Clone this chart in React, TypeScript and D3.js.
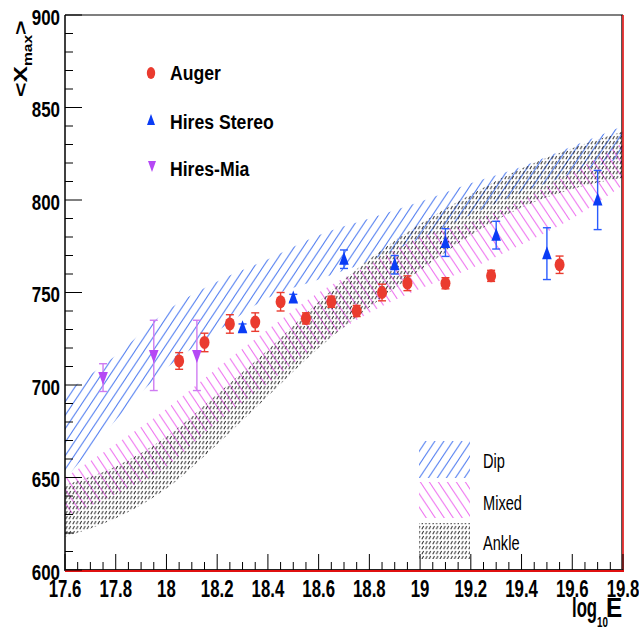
import React from 'react';
import * as d3 from 'd3';

// Model bands on a log10(E) grid, lower/upper <Xmax> bounds
const bandE = [17.6, 17.8, 18.0, 18.2, 18.4, 18.6, 18.8, 19.0, 19.2, 19.4, 19.6, 19.8];
const dipHigh = [696, 716, 740, 756, 768, 781, 790, 799, 809, 818, 829, 840];
const dipLow = [649, 681, 709, 729, 747, 757, 767, 779, 792, 804, 814, 823];
const mixedHigh = [650, 668, 687, 709, 730, 750, 765, 780, 788, 800, 815, 831];
const mixedLow = [629, 641, 656, 680, 701, 722, 739, 752, 763, 776, 790, 808];
const ankleHigh = [646, 656, 672, 695, 719, 745, 768, 787, 803, 817, 828, 837];
const ankleLow = [618, 628, 644, 668, 694, 720, 742, 762, 781, 796, 806, 812];

// Measurements
const augerE = [18.05, 18.15, 18.25, 18.35, 18.45, 18.55, 18.65, 18.75, 18.85, 18.95, 19.1, 19.28, 19.55];
const augerX = [713, 723, 733, 734, 745, 736, 745, 740, 750, 755, 755, 759, 765];
const augerErr = [4.5, 5, 5, 5, 5, 3, 3, 3, 4.5, 4, 3, 3, 4.7];

const stereoE = [18.3, 18.5, 18.7, 18.9, 19.1, 19.3, 19.5, 19.7];
const stereoX = [731, 747, 768, 765, 777, 781, 771, 800];
const stereoErr = [2, 2, 5, 5, 7.5, 7.5, 14, 16];

const miaE = [17.75, 17.95, 18.12];
const miaX = [704, 716, 716];
const miaErr = [7.5, 19, 19];

// Axis ticks
const xTickLabels = ['17.6', '17.8', '18', '18.2', '18.4', '18.6', '18.8', '19', '19.2', '19.4', '19.6', '19.8'];
const yTickLabels = ['600', '650', '700', '750', '800', '850', '900'];

const legendSeries = ['Auger', 'Hires Stereo', 'Hires-Mia'];
const legendBands = ['Dip', 'Mixed', 'Ankle'];

const FONT = "'Liberation Sans', Arial, Helvetica, sans-serif";
const RED = '#ea3b2f';
const BLUE = '#0a3cf5';
const BLUE_ERR = '#2a5cff';
const PURPLE = '#b548f5';
const PURPLE_ERR = '#cf7cf2';
const DIP_C = '#4f7cf0';
const MIX_C = '#ee70f0';
const ANK_C = '#2a2a2a';

const x = d3.scaleLinear().domain([17.6, 19.8]).range([65, 623]);
const y = d3.scaleLinear().domain([600, 900]).range([570, 15]);

function bandPath(lo: number[], hi: number[]) {
  const a = d3
    .area<number>()
    .x((e) => x(e))
    .y0((_, i) => y(lo[i]))
    .y1((_, i) => y(hi[i]))
    .curve(d3.curveMonotoneX);
  return a(bandE) || '';
}

function CText(props: {
  x: number;
  y: number;
  sx: number;
  size: number;
  anchor?: string;
  weight?: string | number;
  fill?: string;
  children: React.ReactNode;
}) {
  const { x: tx, y: ty, sx, size, anchor = 'start', weight = 'bold', fill = '#000', children } = props;
  return (
    <text
      transform={`translate(${tx},${ty}) scale(${sx},1)`}
      textAnchor={anchor}
      fontFamily={FONT}
      fontSize={size}
      fontWeight={weight}
      fill={fill}
    >
      {children}
    </text>
  );
}

const upTri = 'M0,-7.5 L4.8,5.5 L-4.8,5.5 Z';
const downTri = 'M0,7.5 L4.8,-5.5 L-4.8,-5.5 Z';

function ErrBar({ cx, v, e, color }: { cx: number; v: number; e: number; color: string }) {
  const y1 = y(v - e);
  const y2 = y(v + e);
  return (
    <g stroke={color} strokeWidth={1.4}>
      <line x1={cx} x2={cx} y1={y1} y2={y2} />
      <line x1={cx - 4} x2={cx + 4} y1={y1} y2={y1} />
      <line x1={cx - 4} x2={cx + 4} y1={y2} y2={y2} />
    </g>
  );
}

export default function App() {
  const xMinor = d3.range(0, 45).map((i) => 17.6 + i * 0.05);
  const yMinor = d3.range(0, 31).map((i) => 600 + i * 10);

  return (
    <div style={{ position: 'absolute', left: 0, top: 0 }}>
      <svg width={639} height={630} style={{ display: 'block', background: '#fff' }}>
        <defs>
          <pattern id="hDip" patternUnits="userSpaceOnUse" width={9} height={13.5}>
            <line x1={0} y1={13.5} x2={9} y2={0} stroke={DIP_C} strokeWidth={1} />
            <line x1={-1} y1={1.5} x2={1} y2={-1.5} stroke={DIP_C} strokeWidth={1} />
            <line x1={8} y1={15} x2={10} y2={12} stroke={DIP_C} strokeWidth={1} />
          </pattern>
          <pattern id="hMix" patternUnits="userSpaceOnUse" width={9} height={13.5}>
            <line x1={0} y1={0} x2={9} y2={13.5} stroke={MIX_C} strokeWidth={1} />
            <line x1={-1} y1={12} x2={1} y2={15} stroke={MIX_C} strokeWidth={1} />
            <line x1={8} y1={-1.5} x2={10} y2={1.5} stroke={MIX_C} strokeWidth={1} />
          </pattern>
          <pattern id="hAnk" patternUnits="userSpaceOnUse" width={3.6} height={5}>
            <line x1={0.7} y1={4.3} x2={2.4} y2={1.0} stroke={ANK_C} strokeWidth={0.95} />
          </pattern>
          <clipPath id="plotClip">
            <rect x={65} y={15} width={558} height={555} />
          </clipPath>
        </defs>

        {/* model bands */}
        <g clipPath="url(#plotClip)">
          <path d={bandPath(dipLow, dipHigh)} fill="url(#hDip)" />
          <path d={bandPath(mixedLow, mixedHigh)} fill="url(#hMix)" />
          <path d={bandPath(ankleLow, ankleHigh)} fill="url(#hAnk)" />
        </g>

        {/* frame */}
        <line x1={65} x2={623} y1={15} y2={15} stroke="#555" strokeWidth={1.5} />
        <line x1={621.8} x2={621.8} y1={15} y2={570} stroke="#111" strokeWidth={1} />
        <line x1={623} x2={623} y1={15} y2={571} stroke="#e01010" strokeWidth={1.6} />
        <line x1={65} x2={65} y1={15} y2={571} stroke="#000" strokeWidth={1.5} />
        <line x1={65} x2={623} y1={569.5} y2={569.5} stroke="#222" strokeWidth={1} />
        <line x1={65} x2={624} y1={571} y2={571} stroke="#e01010" strokeWidth={1.8} />

        {/* ticks */}
        <g stroke="#000" strokeWidth={1}>
          {xMinor.map((v, i) => (
            <line key={i} x1={x(v)} x2={x(v)} y1={570} y2={i % 4 === 0 ? 554 : 562} />
          ))}
          {yMinor.map((v, i) => (
            <line key={'y' + i} x1={65} x2={i % 5 === 0 ? 82 : 73} y1={y(v)} y2={y(v)} />
          ))}
        </g>
        {xTickLabels.map((t) => (
          <CText key={t} x={x(+t)} y={597} sx={0.7} size={24} anchor="middle">
            {t}
          </CText>
        ))}
        {yTickLabels.map((t) => (
          <CText key={t} x={60} y={y(+t) + 9.5} sx={0.77} size={22} anchor="end">
            {t}
          </CText>
        ))}

        {/* axis titles */}
        <g transform="translate(27,97) rotate(-90) scale(1.3,1)">
          <text fontFamily={FONT} fontWeight="bold" fontSize={19}>
            <tspan>&lt;X</tspan>
            <tspan fontSize={12} dy={5}>max</tspan>
            <tspan dy={-5}>&gt;</tspan>
          </text>
        </g>
        <CText x={572} y={617} sx={0.62} size={27}>
          log
        </CText>
        <CText x={597} y={627} sx={0.7} size={14}>
          10
        </CText>
        <CText x={606} y={617} sx={0.9} size={27}>
          E
        </CText>

        {/* data: error bars then markers */}
        {miaE.map((e, i) => (
          <ErrBar key={'me' + i} cx={x(e)} v={miaX[i]} e={miaErr[i]} color={PURPLE_ERR} />
        ))}
        {stereoE.map((e, i) => (
          <ErrBar key={'se' + i} cx={x(e)} v={stereoX[i]} e={stereoErr[i]} color={BLUE_ERR} />
        ))}
        {augerE.map((e, i) => (
          <ErrBar key={'ae' + i} cx={x(e)} v={augerX[i]} e={augerErr[i]} color={RED} />
        ))}
        {miaE.map((e, i) => (
          <path key={'m' + i} d={downTri} transform={`translate(${x(e)},${y(miaX[i])})`} fill={PURPLE} />
        ))}
        {stereoE.map((e, i) => (
          <path key={'s' + i} d={upTri} transform={`translate(${x(e)},${y(stereoX[i])})`} fill={BLUE} />
        ))}
        {augerE.map((e, i) => (
          <ellipse key={'a' + i} cx={x(e)} cy={y(augerX[i])} rx={5} ry={6.5} fill={RED} />
        ))}

        {/* series legend */}
        <ellipse cx={151} cy={73} rx={4.2} ry={6} fill={RED} />
        <path d="M0,-6 L4,5 L-4,5 Z" transform="translate(151,120)" fill={BLUE} />
        <path d="M0,6 L4,-5 L-4,-5 Z" transform="translate(152,166)" fill={PURPLE} />
        {legendSeries.map((s, i) => (
          <CText key={s} x={170} y={[80, 129, 176][i]} sx={0.84} size={21}>
            {s}
          </CText>
        ))}

        {/* band legend */}
        <rect x={419} y={441} width={51} height={37} fill="url(#hDip)" />
        <rect x={419} y={482} width={51} height={36} fill="url(#hMix)" />
        <rect x={419} y={523} width={51} height={36} fill="url(#hAnk)" />
        {legendBands.map((s, i) => (
          <CText key={s} x={483} y={[468, 510, 550][i]} sx={0.73} size={20} weight="normal">
            {s}
          </CText>
        ))}
      </svg>
    </div>
  );
}
